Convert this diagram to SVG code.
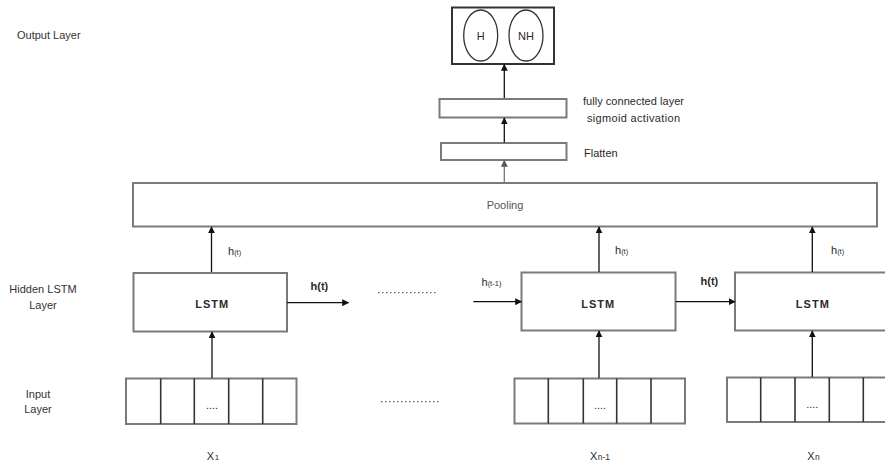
<svg xmlns="http://www.w3.org/2000/svg" width="885" height="463" viewBox="0 0 885 463">
<defs>
<marker id="ah" viewBox="0 0 10 10" refX="9" refY="5" markerWidth="7" markerHeight="7" markerUnits="userSpaceOnUse" orient="auto">
<path d="M0,0 L10,5 L0,10 z" fill="#111"/>
</marker>
<marker id="ahg" viewBox="0 0 10 10" refX="9" refY="5" markerWidth="7" markerHeight="7" markerUnits="userSpaceOnUse" orient="auto">
<path d="M0,0 L10,5 L0,10 z" fill="#555"/>
</marker>
</defs>
<style>
.box{fill:#fff;stroke:#7a7a7a;stroke-width:2}
.cell{fill:none;stroke:#333;stroke-width:1.6}
.t{font-family:"Liberation Sans",Arial,sans-serif;fill:#2a2a2a;font-size:11px}
.lbl{font-family:"Liberation Sans",Arial,sans-serif;fill:#333;font-size:11px}
.b{font-weight:bold}
.arr{stroke:#111;stroke-width:1.3;fill:none;marker-end:url(#ah)}
.dot{stroke:#666;stroke-width:1.3;stroke-dasharray:1.5 2.5;fill:none}
</style>
<rect width="885" height="463" fill="#fff"/>

<g id="layer-labels">
<text class="lbl" x="17" y="39">Output Layer</text>
<text class="lbl" x="43" y="293" text-anchor="middle">Hidden LSTM</text>
<text class="lbl" x="43" y="309" text-anchor="middle">Layer</text>
<text class="lbl" x="38" y="398" text-anchor="middle">Input</text>
<text class="lbl" x="38" y="413" text-anchor="middle">Layer</text>
</g>

<g id="output">
<rect class="box" x="452" y="7.5" width="102" height="56.5" style="stroke:#333"/>
<ellipse cx="480.7" cy="35.5" rx="17" ry="25.5" fill="none" stroke="#333" stroke-width="1.3"/>
<ellipse cx="526" cy="35.5" rx="17" ry="25.5" fill="none" stroke="#333" stroke-width="1.3"/>
<text class="t" x="480.7" y="39.5" text-anchor="middle" font-size="10">H</text>
<text class="t" x="526" y="39.5" text-anchor="middle" font-size="10">NH</text>
</g>

<g id="fc">
<rect class="box" x="439.5" y="99" width="127" height="18.5"/>
<text class="t" x="583" y="105" textLength="101">fully connected layer</text>
<text class="t" x="587" y="122" textLength="93">sigmoid activation</text>
</g>

<g id="flatten">
<rect class="box" x="441" y="143" width="125.5" height="17"/>
<text class="t" x="584" y="157">Flatten</text>
</g>

<g id="pooling">
<rect class="box" x="133" y="183" width="744" height="43.5"/>
<text class="t" x="505" y="209" text-anchor="middle" style="fill:#555">Pooling</text>
</g>

<g id="lstm1">
<rect class="box" x="133.5" y="273" width="153.5" height="58.5"/>
<text class="t b" x="211.7" y="307.5" text-anchor="middle" textLength="33">LSTM</text>
</g>
<g id="lstm2">
<rect class="box" x="521.5" y="272.5" width="154" height="58"/>
<text class="t b" x="597.7" y="308" text-anchor="middle" textLength="33">LSTM</text>
</g>
<g id="lstm3">
<rect class="box" x="735" y="272.5" width="160" height="58"/>
<text class="t b" x="812.3" y="308" text-anchor="middle" textLength="33">LSTM</text>
</g>

<g id="input1">
<rect class="box" x="126" y="378.5" width="170.5" height="45.5"/>
<path class="cell" d="M160.7,378.5V424M194.3,378.5V424M228.7,378.5V424M262.7,378.5V424"/>
<text class="t" x="212" y="409" text-anchor="middle" font-size="9">....</text>
<text class="t" x="213" y="460" text-anchor="middle" font-size="13">X<tspan font-size="8" dx="0.5">1</tspan></text>
</g>
<g id="input2">
<rect class="box" x="514.5" y="378.5" width="170.5" height="45"/>
<path class="cell" d="M548.3,378.5V423.5M583.3,378.5V423.5M616.7,378.5V423.5M651,378.5V423.5"/>
<text class="t" x="600" y="409" text-anchor="middle" font-size="9">....</text>
<text class="t" x="600" y="460" text-anchor="middle" font-size="13">X<tspan font-size="8.5" dx="0.5">n-1</tspan></text>
</g>
<g id="input3">
<rect class="box" x="727" y="377.5" width="170" height="44.5"/>
<path class="cell" d="M760.7,377.5V422M795,377.5V422M829.3,377.5V422M863.3,377.5V422"/>
<text class="t" x="812.3" y="408" text-anchor="middle" font-size="9">....</text>
<text class="t" x="813.5" y="460" text-anchor="middle" font-size="13">X<tspan font-size="8.5" dx="0.5">n</tspan></text>
</g>

<g id="connectors">
<line class="arr" x1="504.3" y1="98" x2="504.3" y2="64.5"/>
<line class="arr" x1="504.3" y1="142.5" x2="504.3" y2="118"/>
<line x1="504.3" y1="182" x2="504.3" y2="160.5" stroke="#777" stroke-width="1.3" marker-end="url(#ahg)"/>
<line class="arr" x1="211.5" y1="272" x2="211.5" y2="227"/>
<line class="arr" x1="599" y1="272" x2="599" y2="227"/>
<line class="arr" x1="812.3" y1="272" x2="812.3" y2="227"/>
<line class="arr" x1="212" y1="378" x2="212" y2="332"/>
<line class="arr" x1="599" y1="378" x2="599" y2="331"/>
<line class="arr" x1="812.3" y1="377" x2="812.3" y2="331"/>
<line class="arr" x1="287" y1="302.7" x2="348.5" y2="302.7"/>
<line class="arr" x1="473.3" y1="301.7" x2="521.5" y2="301.7"/>
<line class="arr" x1="675.7" y1="301.7" x2="735" y2="301.7"/>
<line class="dot" x1="378" y1="292.7" x2="436" y2="292.7"/>
<line class="dot" x1="381" y1="401.7" x2="439" y2="401.7"/>
</g>

<g id="edge-labels">
<text class="t" x="228" y="255">h<tspan font-size="7.5">(t)</tspan></text>
<text class="t" x="615" y="254">h<tspan font-size="7.5">(t)</tspan></text>
<text class="t" x="831" y="254">h<tspan font-size="7.5">(t)</tspan></text>
<text class="t b" x="310.5" y="290" font-size="11">h(t)</text>
<text class="t b" x="700.5" y="285" font-size="11">h(t)</text>
<text class="t" x="481.5" y="286">h<tspan font-size="7.5">(t-1)</tspan></text>
</g>
</svg>
